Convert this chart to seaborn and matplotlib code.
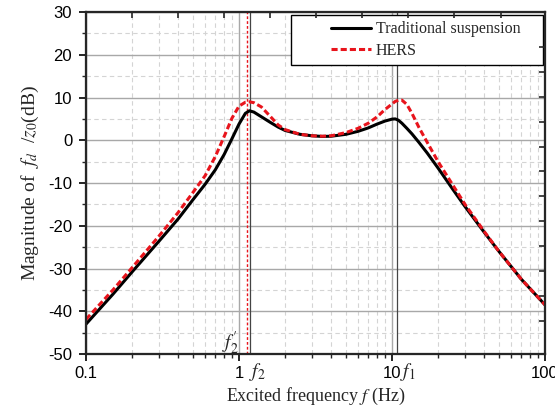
import numpy as np
import pandas as pd
import matplotlib
matplotlib.use("Agg")
import matplotlib.pyplot as plt
import seaborn as sns
from matplotlib.ticker import FixedLocator, NullFormatter, NullLocator
from matplotlib.legend_handler import HandlerLine2D

# frequencies (Hz)
freq = [0.1, 0.15, 0.2, 0.3, 0.4, 0.5, 0.6, 0.7, 0.8, 0.9, 1.0, 1.1, 1.17, 1.25,
        1.4, 1.6, 1.8, 2.0, 2.5, 3.0, 3.5, 4.0, 5.0, 6.0, 7.0, 8.0, 9.0, 10.0,
        10.5, 11.0, 11.6, 12.5, 13.5, 15, 17, 20, 25, 30, 40, 50, 70, 100]

traditional = [-43.0, -36.0, -30.8, -23.6, -18.4, -13.9, -10.3, -6.9, -3.3, 0.4,
               3.8, 6.3, 6.9, 6.6, 5.5, 4.2, 3.1, 2.3, 1.4, 1.05, 0.9, 0.95, 1.4,
               2.1, 2.9, 3.8, 4.5, 4.95, 5.0, 4.7, 4.0, 2.8, 1.5, -0.5, -3.0,
               -6.5, -11.5, -15.5, -21.5, -26.0, -32.5, -38.5]

hers = [-41.9, -35.0, -29.8, -22.4, -16.9, -12.2, -8.3, -3.8, 0.9, 5.2,
        8.0, 8.9, 9.0, 8.8, 7.8, 5.6, 3.6, 2.5, 1.4, 1.05, 0.95, 1.05, 1.8,
        2.8, 4.0, 5.5, 7.2, 8.5, 9.1, 9.35, 9.4, 8.4, 6.3, 3.0, -0.5,
        -5.0, -10.5, -15.0, -21.3, -26.0, -32.5, -38.5]

f2_hers = 1.12
f2_trad = 1.18
f1_trad = 10.8

df = pd.DataFrame({"f": freq * 2,
                   "mag": traditional + hers,
                   "series": ["Traditional suspension"] * len(freq) + ["HERS"] * len(freq)})

sns.set_style("white")
plt.rcParams["axes.unicode_minus"] = False
plt.rcParams["mathtext.fontset"] = "stix"
plt.rcParams["font.family"] = ["Liberation Sans", "DejaVu Sans"]

fig = plt.figure(figsize=(5.55, 4.09), dpi=100)
ax = fig.add_axes([0.155, 0.1345, 0.827, 0.836])

sns.lineplot(data=df, x="f", y="mag", hue="series", style="series",
             palette={"Traditional suspension": "black", "HERS": "#e8141c"},
             dashes={"Traditional suspension": "", "HERS": (2, 1)},
             linewidth=2.2, ax=ax, legend=False, zorder=5)

ax.set_xscale("log")
ax.set_xlim(0.1, 100)
ax.set_ylim(-50, 30)

ax.set_xticks([0.1, 1, 10, 100])
ax.set_xticklabels(["0.1", "1", "10", "100"])
ax.set_yticks(range(-50, 31, 10))
ax.set_yticks(range(-45, 30, 10), minor=True)
ax.tick_params(axis="both", which="major", direction="out", length=5, width=1.2,
               labelsize=12, colors="black")
ax.tick_params(axis="y", which="major", pad=5)
ax.tick_params(axis="both", which="minor", direction="out", length=3, width=1.0)

ax.grid(True, which="major", color="#a8a8a8", linewidth=1.0)
ax.grid(True, which="minor", color="#d4d4d4", linewidth=0.8, linestyle=(0, (4, 3)))
ax.set_axisbelow(True)

for s in ax.spines.values():
    s.set_linewidth(1.5)
    s.set_color("black")

# marker lines for the resonance frequencies
ax.axvline(f2_hers, color="#e8141c", linestyle=(0, (2, 1.5)), linewidth=1.0, zorder=3)
ax.axvline(f2_trad, color="#444444", linewidth=0.9, zorder=3)
ax.axvline(f1_trad, color="#444444", linewidth=0.9, zorder=3)

# top and right ticks pointing inwards
top = ax.twiny()
top.set_xscale("log")
top.set_xlim(ax.get_xlim())
top.xaxis.set_major_locator(FixedLocator([0.1 * 2 ** k for k in range(1, 10)]))
top.xaxis.set_minor_locator(NullLocator())
top.xaxis.set_major_formatter(NullFormatter())
top.tick_params(axis="x", direction="in", length=4, width=1.2)
right = ax.twinx()
right.set_ylim(ax.get_ylim())
right.set_yticks([21.8 - 5.82 * k for k in range(12)])
right.set_yticklabels([])
right.tick_params(axis="y", direction="in", length=4, width=1.2)
for a in (top, right):
    for s in a.spines.values():
        s.set_linewidth(1.5)

serif = ["Liberation Serif", "DejaVu Serif"]
ax.set_xlabel("Excited frequency $f$ (Hz)", family=serif, fontsize=13, labelpad=4)
ax.set_ylabel("Magnitude of  $f_d$  /$z_0$(dB)", family=serif, fontsize=14, labelpad=5)

ax.text(1.155, -0.02, "$f_2$", transform=ax.get_xaxis_transform(),
        ha="left", va="top", fontsize=14)
ax.text(11.2, -0.02, "$f_1$", transform=ax.get_xaxis_transform(),
        ha="left", va="top", fontsize=14)
ax.text(0.995, -47.5, r"$f_2^{\prime}$", ha="right", va="center", fontsize=14)

handles = [plt.Line2D([], [], color="black", linewidth=2.2),
           plt.Line2D([], [], color="#e8141c", linewidth=2.2, linestyle=(0, (2, 1)))]
leg = ax.legend(handles, ["Traditional suspension    ", "HERS"], loc="upper right",
                bbox_to_anchor=(0.9956, 0.992), borderaxespad=0, fancybox=False,
                framealpha=1, edgecolor="black", prop={"family": serif, "size": 11.5},
                handlelength=4.6, handletextpad=0.3, borderpad=0.4, labelspacing=0.35,
                handler_map={plt.Line2D: HandlerLine2D(xpad=2.1)})
leg.get_frame().set_linewidth(1.0)
leg.set_zorder(10)

fig.savefig("out.png", dpi=100)
